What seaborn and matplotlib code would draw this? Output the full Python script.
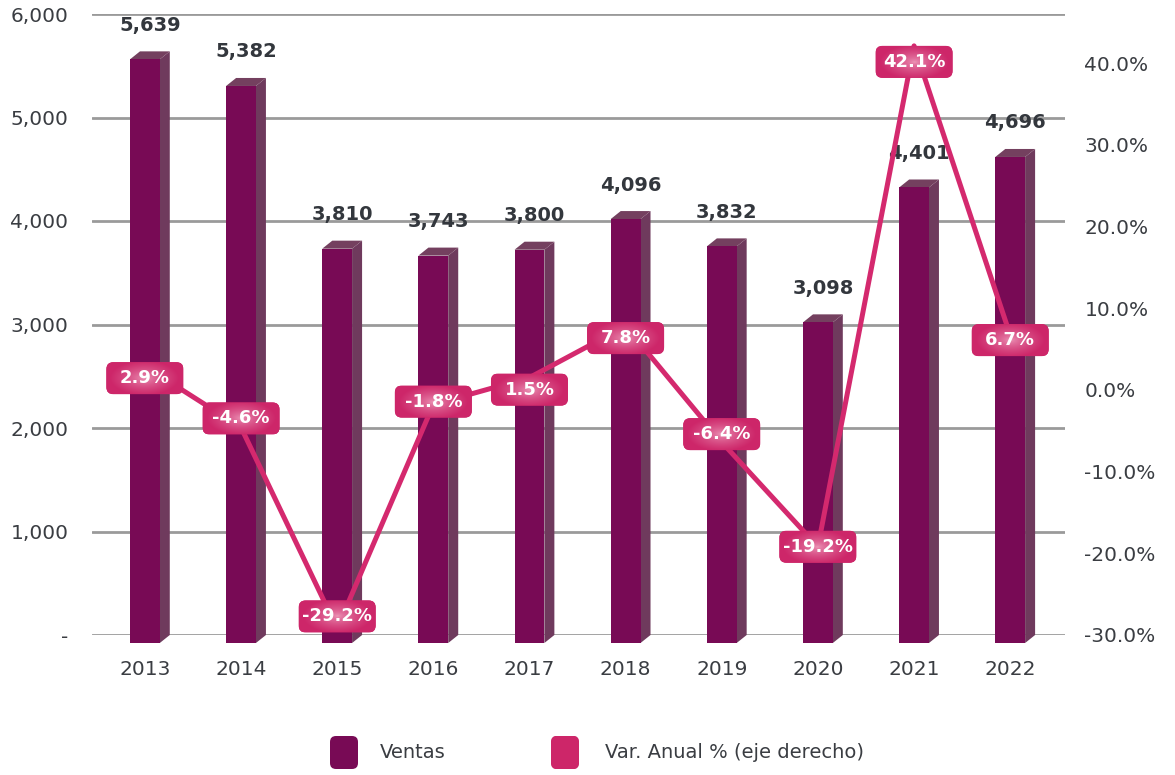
import numpy as np
import pandas as pd
import matplotlib
matplotlib.use("Agg")
import matplotlib.pyplot as plt
from matplotlib.patches import Polygon, FancyBboxPatch
from matplotlib.transforms import Affine2D, ScaledTranslation, IdentityTransform
from matplotlib.colors import to_rgb
import seaborn as sns

# ---- data ----
years = ["2013", "2014", "2015", "2016", "2017", "2018", "2019", "2020", "2021", "2022"]
ventas = [5639, 5382, 3810, 3743, 3800, 4096, 3832, 3098, 4401, 4696]
var_anual = [2.9, -4.6, -29.2, -1.8, 1.5, 7.8, -6.4, -19.2, 42.1, 6.7]
left_ticks = [0, 1000, 2000, 3000, 4000, 5000, 6000]
right_ticks = [-30, -20, -10, 0, 10, 20, 30, 40]

# ---- style ----
FRONT = "#780a55"
SIDE = "#6f3a5d"
TOP = "#74405f"
LINE = "#d4296e"
BOX = "#cd2669"
BOX_HI = "#ee9ebd"
TEXT = "#3a3d42"
GRID = "#9a9a9a"

sns.set_theme(style="white")
plt.rcParams["font.family"] = ["DejaVu Sans"]


def radial_gradient(h, w, inner, outer):
    yy, xx = np.mgrid[-1:1:h * 1j, -1:1:w * 1j]
    r = np.clip(np.sqrt((xx * 1.1) ** 2 + (yy * 0.9) ** 2), 0, 1) ** 0.6
    c0, c1 = np.array(to_rgb(inner)), np.array(to_rgb(outer))
    return c0[None, None, :] * (1 - r[..., None]) + c1[None, None, :] * r[..., None]


W, H = 1175, 775
fig = plt.figure(figsize=(W / 100, H / 100), dpi=100)
ax = fig.add_axes([92 / W, 140 / H, 973 / W, 621 / H])

df = pd.DataFrame({"Año": years, "Ventas": ventas, "Var": var_anual})

sns.barplot(data=df, x="Año", y="Ventas", color=FRONT, saturation=1,
            width=0.31, ax=ax, zorder=3, linewidth=0, edgecolor="none")
XLIM = (-0.55, 9.57)
ax.set_xlim(*XLIM)
ax.set_ylim(0, 6000)
ax.set_yticks(left_ticks)
ax.set_yticklabels(["-" if t == 0 else f"{t:,}" for t in left_ticks])
ax.grid(axis="y", color=GRID, lw=2)
ax.grid(axis="x", visible=False)
ax.set_axisbelow(True)
ax.set_xlabel("")
ax.set_ylabel("")
ax.tick_params(axis="y", length=0, pad=17, labelsize=14.5, labelcolor=TEXT)
ax.tick_params(axis="x", length=0, pad=18, labelsize=14.5, labelcolor=TEXT)
for s in ax.spines.values():
    s.set_visible(False)

# pixel sizes of the 3D extrusion, converted to data units
x_px = ax.transData.transform((1, 0))[0] - ax.transData.transform((0, 0))[0]
y_px = (ax.transData.transform((0, 1000))[1] - ax.transData.transform((0, 0))[1]) / 1000
dx = 10 / x_px
dy = 8 / y_px

for p in list(ax.patches):
    x0, w, h = p.get_x(), p.get_width(), p.get_height()
    p.set_y(-dy)
    p.set_clip_on(False)
    side = Polygon([(x0 + w, -dy), (x0 + w, h - dy), (x0 + w + dx, h), (x0 + w + dx, 0)],
                   closed=True, fc=SIDE, ec="none", zorder=2.9, clip_on=False)
    top = Polygon([(x0, h - dy), (x0 + w, h - dy), (x0 + w + dx, h), (x0 + dx, h)],
                  closed=True, fc=TOP, ec="none", zorder=2.9, clip_on=False)
    ax.add_patch(side)
    ax.add_patch(top)

for i, v in enumerate(ventas):
    ax.annotate(f"{v:,}", xy=(i, v), xytext=(5 * 0.72, 26 * 0.72),
                textcoords="offset points", ha="center", va="center",
                fontsize=14, fontweight="bold", color="#33373d", zorder=6)

# ---- annual change line on the right axis ----
ax2 = ax.twinx()
sns.lineplot(data=df, x="Año", y="Var", color=LINE, lw=3.6, sort=False,
             ax=ax2, zorder=4)

# label boxes: fixed pixel size, nudged from each point
label_shift = [12, -9, -12, -3, 12, 12, -8, 0, 16, 5]
grad = radial_gradient(32, 77, BOX_HI, BOX)
for i, (v, sh) in enumerate(zip(var_anual, label_shift)):
    T = Affine2D() + ScaledTranslation(i, v, ax2.transData)
    box = FancyBboxPatch((-38.5, -16 - sh), 77, 32,
                         boxstyle="round,pad=0,rounding_size=7",
                         fc=BOX, ec="none", transform=T, zorder=6, clip_on=False)
    ax2.add_patch(box)
    im = ax2.imshow(grad, extent=(-38.5, 38.5, -16 - sh, 16 - sh), aspect="auto",
                    zorder=6.1, interpolation="bilinear")
    im.set_transform(T)
    im.set_clip_path(box)
    ax2.text(0, -sh, f"{v:.1f}%", transform=T, ha="center", va="center",
             color="white", fontsize=13, fontweight="bold", zorder=7)

ax2.set_xlim(*XLIM)
ax2.set_ylim(-30, 46)
ax2.set_yticks(right_ticks)
ax2.set_yticklabels([f"{t:.1f}%" for t in right_ticks])
ax2.tick_params(axis="y", length=0, pad=14, labelsize=14.5, labelcolor=TEXT)
ax2.grid(False)
ax2.set_ylabel("")
ax2.set_xlabel("")
for s in ax2.spines.values():
    s.set_visible(False)

# ---- legend ----
fig.add_artist(FancyBboxPatch((330, 6), 28, 33, boxstyle="round,pad=0,rounding_size=6",
                              fc=FRONT, ec="none", transform=IdentityTransform()))
fig.text(380, 23, "Ventas", transform=IdentityTransform(), ha="left", va="center",
         fontsize=14, color=TEXT)

lax = fig.add_axes([551 / W, 6 / H, 28 / W, 33 / H])
lax.set_axis_off()
lbox = FancyBboxPatch((0, 0), 1, 1, boxstyle="round,pad=0,rounding_size=0.2",
                      fc=BOX, ec="none", transform=lax.transAxes)
lax.add_patch(lbox)
lim = lax.imshow(radial_gradient(33, 28, BOX_HI, BOX), extent=(0, 1, 0, 1),
                 aspect="auto", interpolation="bilinear")
lim.set_clip_path(lbox)
lax.set_xlim(0, 1)
lax.set_ylim(0, 1)
fig.text(605, 23, "Var. Anual % (eje derecho)", transform=IdentityTransform(),
         ha="left", va="center", fontsize=14, color=TEXT)

fig.savefig("out.png", dpi=100)
